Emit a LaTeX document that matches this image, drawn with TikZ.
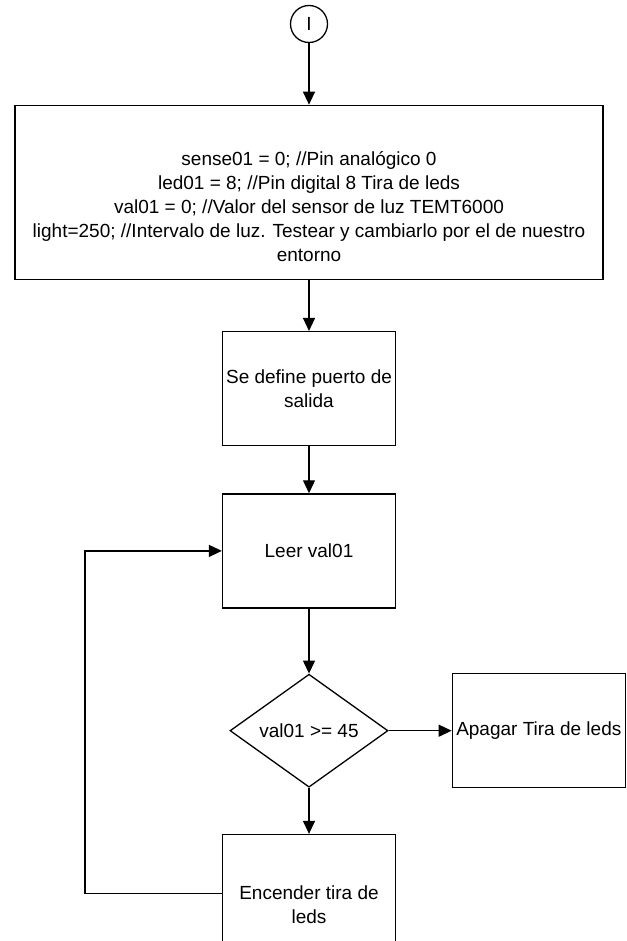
\documentclass[tikz,border=0pt]{standalone}
\usepackage{fontspec}
\setmainfont{Liberation Sans}
\usetikzlibrary{shapes.geometric, arrows.meta, positioning}
\tikzset{
  procbox/.style={
    draw=black,
    line width=1.3pt,
    minimum width=173pt,
    minimum height=114pt,
    align=center,
    inner sep=0pt,
    font=\fontsize{19}{23.5}\selectfont
  },
  decision/.style={
    diamond,
    draw=black,
    line width=1.3pt,
    aspect=1.4,
    minimum width=158pt,
    minimum height=113pt,
    inner sep=0pt,
    font=\fontsize{19}{23.5}\selectfont
  },
  terminal/.style={
    circle,
    draw=black,
    line width=1.3pt,
    minimum size=37pt,
    inner sep=0pt,
    font=\fontsize{19}{23.5}\selectfont
  },
  flowarrow/.style={
    -{Triangle[length=13pt, width=12pt]},
    line width=1.3pt
  }
}
\begin{document}
\begin{tikzpicture}[x=1pt, y=1pt]

  \useasboundingbox (0,0) rectangle (626,-941);

  % Steps
  \node (start) [terminal] at (309,-24) {I};

  \node (init) [procbox, minimum width=588pt, minimum height=174pt, below=61.5pt of start] {};
  \node (initlbl) [align=center, font=\fontsize{19}{24}\selectfont] at ([yshift=-14pt]init.center)
    {sense01 = 0; //Pin analógico 0\\
     led01 = 8; //Pin digital 8 Tira de leds\\
     val01 = 0; //Valor del sensor de luz TEMT6000\\
     light=250; //Intervalo de luz. Testear y cambiarlo por el de nuestro\\
     entorno};

  \node (port) [procbox, below=51pt of init] {Se define puerto de\\salida};

  \node (leer) [procbox, below=47pt of port] {Leer val01};

  \node (cond) [decision, below=65pt of leer] {val01 >= 45};

  \node (apagar) [procbox, right=63pt of cond] {Apagar Tira de leds};

  \node (enc) [procbox, minimum height=140pt, below=46pt of cond] {Encender tira de\\leds};

  % Connectors
  \draw [flowarrow] (start) -- (init);
  \draw [flowarrow] (init) -- (port);
  \draw [flowarrow] (port) -- (leer);
  \draw [flowarrow] (leer) -- (cond);
  \draw [flowarrow] (cond) -- (apagar);
  \draw [flowarrow] (cond) -- (enc);
  \draw [flowarrow] ([yshift=11pt]enc.west) -- ++(-137pt,0) |- (leer.west);

\end{tikzpicture}
\end{document}
